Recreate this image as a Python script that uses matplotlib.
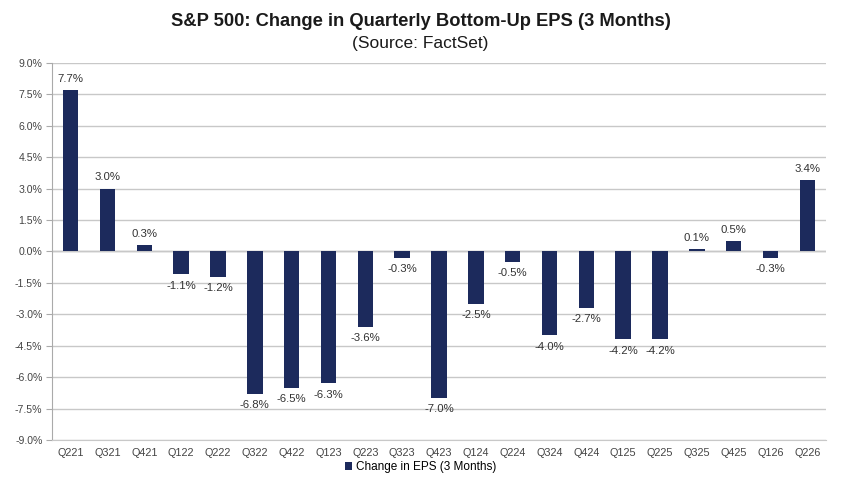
import matplotlib.pyplot as plt
import numpy as np

plt.rcParams['font.family'] = ['Liberation Sans', 'DejaVu Sans']

quarters = ["Q221", "Q321", "Q421", "Q122", "Q222", "Q322", "Q422", "Q123", "Q223", "Q323",
            "Q423", "Q124", "Q224", "Q324", "Q424", "Q125", "Q225", "Q325", "Q425", "Q126", "Q226"]
eps_change = [7.7, 3.0, 0.3, -1.1, -1.2, -6.8, -6.5, -6.3, -3.6, -0.3,
              -7.0, -2.5, -0.5, -4.0, -2.7, -4.2, -4.2, 0.1, 0.5, -0.3, 3.4]
yticks = np.arange(-9.0, 9.01, 1.5)

fig = plt.figure(figsize=(8.41, 4.83), dpi=100)
ax = fig.add_axes([0.062, 0.089, 0.920, 0.781])

x = np.arange(len(quarters))
bars = ax.bar(x, eps_change, width=0.42, color='#1c2a5c', zorder=3,
              label='Change in EPS (3 Months)')

for xi, v in zip(x, eps_change):
    off = 0.3 if v >= 0 else -0.3
    ax.text(xi, v + off, f"{v:.1f}%", ha='center', va='bottom' if v >= 0 else 'top',
            fontsize=8.2, color='#333333', zorder=4)

ax.set_ylim(-9.0, 9.0)
ax.set_xlim(-0.5, len(quarters) - 0.5)
ax.set_yticks(yticks)
ax.set_yticklabels([f"{t:.1f}%" for t in yticks], fontsize=7.6, color='#444444')
ax.set_xticks(x)
ax.set_xticklabels(quarters, fontsize=7.8, color='#444444')
ax.tick_params(axis='x', length=0, pad=6)
ax.tick_params(axis='y', length=4, color='#aaaaaa', pad=3)
ax.grid(axis='y', color='#c8c8c8', linewidth=1.0, zorder=0)
ax.axhline(0, color='#b0b0b0', linewidth=1.0, zorder=1)
for s in ['top', 'right']:
    ax.spines[s].set_visible(False)
ax.spines['left'].set_color('#aaaaaa')
ax.spines['bottom'].set_color('#c8c8c8')

fig.text(0.5, 0.955, "S&P 500: Change in Quarterly Bottom-Up EPS (3 Months)",
         ha='center', va='center', fontsize=13.2, fontweight='bold', color='#1a1a1a')
fig.text(0.5, 0.91, "(Source: FactSet)", ha='center', va='center', fontsize=12.5, color='#1a1a1a')

fig.legend(handles=[bars], loc='center', bbox_to_anchor=(0.5, 0.033), frameon=False,
           fontsize=8.5, handlelength=0.6, handleheight=0.6, handletextpad=0.3)

fig.savefig("out.png", dpi=100)
